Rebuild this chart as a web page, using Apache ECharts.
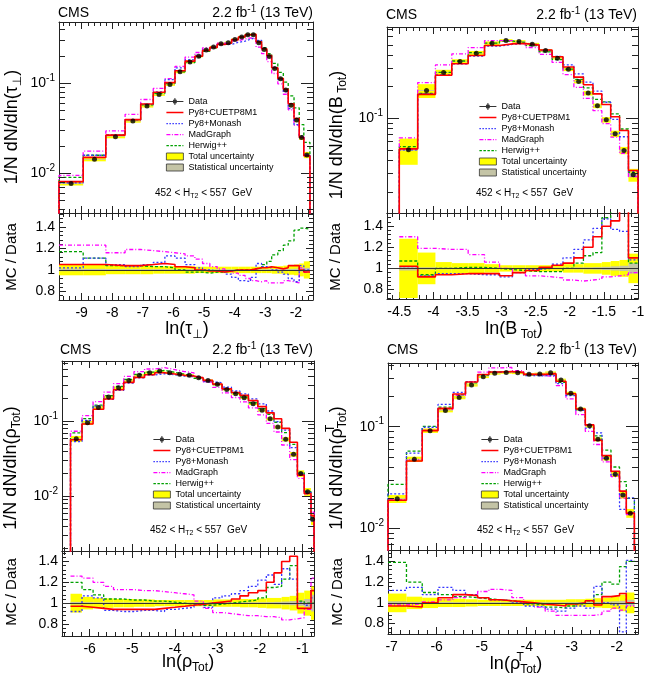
<!DOCTYPE html>
<html>
<head>
<meta charset="utf-8">
<script src="https://cdn.jsdelivr.net/npm/echarts@6.0.0/dist/echarts.min.js"></script>
<style>
html, body { margin: 0; padding: 0; background: #fff; }
#chart { width: 648px; height: 683px; }
</style>
</head>
<body>
<div id="chart"></div>
<script>
// ---- data ----
// ln(tau_perp)
var edgesTau = [-9.74, -8.95, -8.21, -7.58, -7.07, -6.66, -6.28, -5.95, -5.62, -5.30, -5.05, -4.81, -4.57, -4.32, -4.10, -3.88, -3.66, -3.48, -3.30, -3.12, -2.95, -2.79, -2.59, -2.41, -2.25, -2.06, -1.89, -1.74, -1.54];
var dataTau = [0.0077, 0.0143, 0.0255, 0.038, 0.056, 0.075, 0.097, 0.134, 0.173, 0.200, 0.234, 0.253, 0.276, 0.283, 0.306, 0.327, 0.347, 0.347, 0.283, 0.237, 0.198, 0.146, 0.112, 0.084, 0.057, 0.039, 0.025, 0.016];
var redTau = [1.05, 1.05, 1.04, 1.04, 1.05, 1.06, 1.05, 1.03, 1.02, 1.00, 0.99, 0.99, 0.98, 0.99, 1.00, 1.00, 1.00, 1.01, 1.02, 1.02, 1.03, 1.02, 1.01, 1.02, 1.04, 1.04, 1.00, 0.98];
var blueTau = [1.02, 1.11, 1.05, 1.03, 1.05, 1.07, 1.13, 1.11, 1.05, 1.02, 1.00, 0.99, 0.98, 0.96, 0.93, 0.90, 0.89, 0.93, 1.06, 1.03, 1.02, 1.00, 0.98, 0.96, 0.92, 0.89, 1.04, 1.00];
var mgTau = [1.23, 1.23, 1.16, 1.19, 1.18, 1.17, 1.16, 1.15, 1.13, 1.10, 1.06, 1.03, 1.01, 0.99, 0.97, 0.95, 0.92, 0.90, 0.89, 0.90, 0.88, 0.88, 0.88, 0.90, 0.89, 0.88, 1.02, 0.98];
var greenTau = [1.17, 1.11, 1.04, 1.04, 1.03, 1.03, 1.02, 1.00, 0.98, 0.98, 0.97, 0.98, 0.98, 0.99, 1.00, 1.00, 1.00, 1.01, 1.02, 1.05, 1.08, 1.14, 1.18, 1.23, 1.27, 1.37, 1.39, 1.38];
var totTau = [0.05, 0.05, 0.04, 0.04, 0.04, 0.035, 0.035, 0.035, 0.035, 0.03, 0.03, 0.03, 0.03, 0.03, 0.03, 0.03, 0.03, 0.03, 0.03, 0.03, 0.03, 0.035, 0.035, 0.04, 0.045, 0.05, 0.06, 0.08];
var statTau = [0.012, 0.01, 0.008, 0.008, 0.007, 0.007, 0.006, 0.006, 0.006, 0.006, 0.006, 0.006, 0.006, 0.006, 0.006, 0.006, 0.006, 0.006, 0.006, 0.006, 0.007, 0.007, 0.008, 0.009, 0.01, 0.012, 0.015, 0.02];

// ln(B_Tot)
var edgesB = [-4.50, -4.23, -3.97, -3.73, -3.49, -3.25, -3.03, -2.84, -2.65, -2.45, -2.26, -2.10, -1.94, -1.80, -1.66, -1.53, -1.40, -1.27, -1.14, -1.00];
var dataB = [0.050, 0.183, 0.272, 0.346, 0.415, 0.516, 0.547, 0.535, 0.505, 0.440, 0.372, 0.292, 0.223, 0.173, 0.131, 0.0964, 0.071, 0.0493, 0.0289];
var redB = [1.02, 0.92, 0.94, 0.95, 0.95, 0.95, 0.93, 0.96, 0.98, 1.01, 1.03, 1.05, 1.10, 1.20, 1.30, 1.40, 1.45, 1.55, 1.10];
var blueB = [1.00, 0.93, 0.95, 0.95, 0.94, 0.94, 0.92, 0.96, 0.99, 1.00, 1.04, 1.10, 1.18, 1.27, 1.38, 1.47, 1.37, 1.35, 1.08];
var mgB = [1.30, 1.19, 1.18, 1.18, 1.13, 1.06, 1.00, 0.96, 0.93, 0.92, 0.91, 0.89, 0.88, 0.89, 0.90, 0.92, 0.93, 0.94, 0.96];
var greenB = [1.07, 0.94, 1.00, 1.01, 1.01, 1.00, 0.99, 0.98, 0.97, 0.97, 0.97, 1.00, 1.05, 1.12, 1.15, 1.48, 1.55, 1.60, 1.05];
var totB = [0.28, 0.15, 0.06, 0.05, 0.05, 0.04, 0.03, 0.03, 0.03, 0.03, 0.03, 0.04, 0.04, 0.05, 0.05, 0.06, 0.07, 0.08, 0.14];
var statB = [0.02, 0.01, 0.008, 0.007, 0.006, 0.006, 0.006, 0.006, 0.006, 0.006, 0.007, 0.008, 0.009, 0.01, 0.012, 0.015, 0.02, 0.025, 0.05];

// ln(rho_Tot)
var edgesRho = [-6.45, -6.18, -5.92, -5.67, -5.44, -5.20, -4.96, -4.71, -4.47, -4.24, -4.00, -3.77, -3.55, -3.33, -3.11, -2.89, -2.67, -2.47, -2.27, -2.05, -1.85, -1.67, -1.49, -1.30, -1.12, -0.96, -0.80, -0.73];
var dataRho = [0.058, 0.095, 0.151, 0.209, 0.278, 0.348, 0.406, 0.441, 0.464, 0.441, 0.419, 0.406, 0.378, 0.348, 0.308, 0.264, 0.231, 0.205, 0.170, 0.139, 0.107, 0.083, 0.057, 0.036, 0.020, 0.0114, 0.0049];
var redRho = [0.97, 0.96, 0.95, 0.94, 0.94, 0.94, 0.94, 0.94, 0.95, 0.96, 0.97, 0.98, 0.99, 1.00, 1.01, 1.02, 1.04, 1.07, 1.10, 1.12, 1.20, 1.29, 1.40, 1.45, 0.95, 0.95, 1.12];
var blueRho = [0.92, 1.07, 1.05, 0.93, 0.92, 0.92, 0.93, 0.93, 0.92, 0.94, 0.95, 0.96, 0.99, 0.96, 1.05, 1.07, 1.09, 1.12, 1.16, 1.22, 1.27, 1.18, 1.33, 1.23, 1.00, 0.98, 1.05];
var mgRho = [1.26, 1.24, 1.20, 1.16, 1.13, 1.13, 1.12, 1.12, 1.11, 1.10, 1.09, 1.08, 1.02, 0.95, 0.91, 0.90, 0.89, 0.88, 0.88, 0.87, 0.87, 0.86, 0.84, 0.85, 0.86, 0.94, 1.24];
var greenRho = [1.20, 1.13, 1.08, 1.04, 1.04, 1.03, 1.03, 1.02, 1.02, 1.01, 1.00, 0.99, 0.98, 0.98, 0.99, 1.00, 1.01, 1.02, 1.03, 1.05, 1.15, 1.16, 1.23, 1.36, 1.02, 1.00, 1.00];
var totRho = [0.09, 0.06, 0.05, 0.045, 0.04, 0.04, 0.035, 0.035, 0.03, 0.03, 0.03, 0.03, 0.03, 0.03, 0.035, 0.035, 0.035, 0.04, 0.04, 0.045, 0.05, 0.05, 0.06, 0.07, 0.10, 0.12, 0.16];
var statRho = [0.012, 0.01, 0.008, 0.007, 0.006, 0.006, 0.006, 0.006, 0.006, 0.006, 0.006, 0.006, 0.006, 0.006, 0.006, 0.007, 0.007, 0.008, 0.008, 0.009, 0.01, 0.012, 0.015, 0.02, 0.025, 0.04, 0.08];

// ln(rho^T_Tot)
var edgesRhoT = [-7.08, -6.67, -6.32, -5.97, -5.64, -5.36, -5.09, -4.84, -4.58, -4.33, -4.07, -3.83, -3.59, -3.35, -3.13, -2.91, -2.70, -2.51, -2.33, -2.13, -1.94, -1.79, -1.61];
var dataRhoT = [0.0195, 0.0478, 0.0914, 0.144, 0.194, 0.257, 0.310, 0.335, 0.342, 0.339, 0.327, 0.330, 0.339, 0.288, 0.213, 0.149, 0.102, 0.075, 0.049, 0.034, 0.0213, 0.0141];
var redRhoT = [0.97, 0.96, 1.00, 1.05, 1.08, 1.07, 1.05, 1.03, 1.02, 1.01, 1.00, 0.99, 0.98, 0.97, 0.99, 1.00, 1.02, 0.98, 1.06, 1.07, 1.09, 1.00];
var blueRhoT = [1.12, 1.15, 1.08, 1.15, 1.12, 1.08, 1.05, 1.03, 1.02, 1.00, 0.97, 0.96, 0.94, 0.92, 0.95, 0.97, 0.95, 1.16, 1.00, 0.98, 0.72, 1.41];
var mgRhoT = [0.98, 0.99, 1.01, 1.03, 1.05, 1.08, 1.11, 1.13, 1.12, 1.05, 1.00, 0.96, 0.92, 0.88, 0.88, 0.88, 0.88, 0.89, 0.92, 0.95, 0.93, 0.97];
var greenRhoT = [1.39, 1.20, 1.10, 1.08, 1.06, 1.05, 1.04, 1.03, 1.02, 1.01, 0.99, 0.98, 0.96, 0.95, 0.97, 0.99, 1.02, 1.08, 1.20, 1.18, 1.35, 1.40];
var totRhoT = [0.09, 0.06, 0.05, 0.04, 0.04, 0.035, 0.03, 0.03, 0.03, 0.03, 0.03, 0.03, 0.03, 0.03, 0.035, 0.035, 0.04, 0.045, 0.05, 0.06, 0.08, 0.10];
var statRhoT = [0.015, 0.01, 0.008, 0.007, 0.006, 0.006, 0.006, 0.006, 0.006, 0.006, 0.006, 0.006, 0.006, 0.006, 0.007, 0.008, 0.009, 0.01, 0.012, 0.015, 0.02, 0.03];

var logMinor = [2, 3, 4, 5, 6, 7, 8, 9];

// ---- layout ----
var FONT = '"Liberation Sans", Arial, Helvetica, "DejaVu Sans", sans-serif';
var C = { red: '#ff0000', blue: '#3535ff', mg: '#ff00ff', green: '#00a000', yellow: '#ffff00', stat: '#c4c4a6', axis: '#222' };

var panels = [
    { edges: edgesTau, data: dataTau, red: redTau, blue: blueTau, mg: mgTau, green: greenTau, tot: totTau, stat: statTau },
    { edges: edgesB, data: dataB, red: redB, blue: blueB, mg: mgB, green: greenB, tot: totB, stat: statB },
    { edges: edgesRho, data: dataRho, red: redRho, blue: blueRho, mg: mgRho, green: greenRho, tot: totRho, stat: statRho },
    { edges: edgesRhoT, data: dataRhoT, red: redRhoT, blue: blueRhoT, mg: mgRhoT, green: greenRhoT, tot: totRhoT, stat: statRhoT }
];

var layout = [
    { left: 59, width: 254, top: 22, split: 213, bottom: 300, xMin: -9.74, xMax: -1.44, xInt: 1, yMin: 0.00362, yMax: 0.48, rMin: 0.72, rMax: 1.53, showMax: false, legend: [166, 96] },
    { left: 387, width: 251, top: 27, split: 213, bottom: 299, xMin: -4.68, xMax: -1.0, xInt: 0.5, yMin: 0.01253, yMax: 0.736, rMin: 0.71, rMax: 1.525, showMax: true, legend: [479, 101] },
    { left: 62, width: 252, top: 361, split: 551, bottom: 636, xMin: -6.65, xMax: -0.73, xInt: 1, yMin: 0.00185, yMax: 0.631, rMin: 0.685, rMax: 1.50, showMax: false, legend: [153, 434] },
    { left: 388, width: 250, top: 363, split: 550, bottom: 634, xMin: -7.08, xMax: -1.53, xInt: 1, yMin: 0.00612, yMax: 0.423, rMin: 0.70, rMax: 1.51, showMax: false, legend: [481, 434] }
];

// legend icons drawn in a 17x7 box (corner anchors keep the box size)
var BOX = 'M0,0h0.01v0.01z M17,7h-0.01v-0.01z ';
var models = [
    { key: 'red', name: 'Py8+CUETP8M1', color: C.red, width: 1.6, type: 'solid',
      icon: BOX + 'M0,2.7h17v1.6h-17z' },
    { key: 'blue', name: 'Py8+Monash', color: C.blue, width: 1.3, type: [2, 2],
      icon: BOX + 'M0,2.9h1.5v1.3h-1.5z M3,2.9h1.5v1.3h-1.5z M6,2.9h1.5v1.3h-1.5z M9,2.9h1.5v1.3h-1.5z M12,2.9h1.5v1.3h-1.5z M15,2.9h1.5v1.3h-1.5z' },
    { key: 'mg', name: 'MadGraph', color: C.mg, width: 1.3, type: [4, 2, 1, 2],
      icon: BOX + 'M0,2.9h4v1.3h-4z M5.5,2.9h1v1.3h-1z M8,2.9h4v1.3h-4z M13.5,2.9h1v1.3h-1z M16,2.9h1v1.3h-1z' },
    { key: 'green', name: 'Herwig++', color: C.green, width: 1.3, type: [3, 2],
      icon: BOX + 'M0,2.9h2.5v1.3h-2.5z M4,2.9h2.5v1.3h-2.5z M8,2.9h2.5v1.3h-2.5z M12,2.9h2.5v1.3h-2.5z M16,2.9h1v1.3h-1z' }
];

function stepData(edges, vals, drop) {
    var pts = [];
    if (drop) pts.push([edges[0], drop]);
    for (var i = 0; i < vals.length; i++) pts.push([edges[i], vals[i]]);
    pts.push([edges[vals.length], vals[vals.length - 1]]);
    if (drop) pts.push([edges[vals.length], drop]);
    return pts;
}

function bandRender(color) {
    return function (params, api) {
        var p0 = api.coord([api.value(0), api.value(3)]);
        var p1 = api.coord([api.value(1), api.value(2)]);
        return {
            type: 'rect',
            shape: { x: p0[0], y: p0[1], width: p1[0] - p0[0], height: p1[1] - p0[1] },
            style: { fill: color }
        };
    };
}

function minorRender(len) {
    return function (params, api) {
        var cs = params.coordSys;
        var y = Math.round(api.coord([api.value(0), api.value(1)])[1]) + 0.5;
        return {
            type: 'group',
            children: [
                { type: 'line', shape: { x1: cs.x, y1: y, x2: cs.x + len, y2: y }, style: { stroke: C.axis, lineWidth: 1 } },
                { type: 'line', shape: { x1: cs.x + cs.width - len, y1: y, x2: cs.x + cs.width, y2: y }, style: { stroke: C.axis, lineWidth: 1 } }
            ]
        };
    };
}

function xAxisDef(g, L, pos, labels) {
    return {
        type: 'value', gridIndex: g, position: pos, min: L.xMin, max: L.xMax,
        minInterval: L.xInt, maxInterval: L.xInt,
        axisLine: { show: true, onZero: false, lineStyle: { color: C.axis, width: 1 } },
        axisTick: { show: true, inside: true, length: 7, lineStyle: { color: C.axis } },
        minorTick: { show: true, splitNumber: 5, length: 4, lineStyle: { color: C.axis } },
        axisLabel: labels ? { show: true, margin: 6, showMinLabel: false, showMaxLabel: L.showMax, fontSize: 14, color: '#000', fontFamily: FONT } : { show: false },
        splitLine: { show: false }
    };
}

function logAxisDef(g, L, pos) {
    return {
        type: 'log', logBase: 10, gridIndex: g, position: pos, min: L.yMin, max: L.yMax,
        axisLine: { show: true, onZero: false, lineStyle: { color: C.axis, width: 1 } },
        axisTick: { show: true, inside: true, length: 12, lineStyle: { color: C.axis } },
        axisLabel: pos === 'left' ? {
            show: true, margin: 4,
            formatter: function (v) {
                var e = Math.log10(v);
                if (Math.abs(e - Math.round(e)) > 1e-6) return '';
                return '{b|10}{s|' + Math.round(e) + '}';
            },
            rich: {
                b: { fontSize: 14, lineHeight: 20, color: '#000', fontFamily: FONT },
                s: { fontSize: 10, lineHeight: 10, verticalAlign: 'top', color: '#000', fontFamily: FONT }
            }
        } : { show: false },
        splitLine: { show: false }
    };
}

function ratioAxisDef(g, L, pos) {
    return {
        type: 'value', gridIndex: g, position: pos, min: L.rMin, max: L.rMax,
        minInterval: 0.2, maxInterval: 0.2,
        axisLine: { show: true, onZero: false, lineStyle: { color: C.axis, width: 1 } },
        axisTick: { show: true, inside: true, length: 7, lineStyle: { color: C.axis } },
        minorTick: { show: true, splitNumber: 5, length: 4, lineStyle: { color: C.axis } },
        axisLabel: pos === 'left' ? { show: true, margin: 4, showMinLabel: false, showMaxLabel: false, fontSize: 14, color: '#000', fontFamily: FONT } : { show: false },
        splitLine: { show: false }
    };
}

var grids = [], xAxes = [], yAxes = [], series = [], legends = [];

panels.forEach(function (P, p) {
    var L = layout[p];
    var gm = 2 * p, gr = 2 * p + 1;
    grids.push({ left: L.left, top: L.top, width: L.width, height: L.split - L.top, show: false });
    grids.push({ left: L.left, top: L.split, width: L.width, height: L.bottom - L.split, show: false });
    // main pad: x bottom / top, y left / right
    xAxes.push(xAxisDef(gm, L, 'bottom', false), xAxisDef(gm, L, 'top', false));
    yAxes.push(logAxisDef(gm, L, 'left'), logAxisDef(gm, L, 'right'));
    // ratio pad
    xAxes.push(xAxisDef(gr, L, 'bottom', true), xAxisDef(gr, L, 'top', false));
    yAxes.push(ratioAxisDef(gr, L, 'left'), ratioAxisDef(gr, L, 'right'));

    var xm = 4 * p, xr = 4 * p + 2;
    var n = P.data.length;
    var totMain = [], statMain = [], totR = [], statR = [], pts = [];
    for (var i = 0; i < n; i++) {
        var a = P.edges[i], b = P.edges[i + 1], d = P.data[i];
        totMain.push([a, b, d * (1 - P.tot[i]), d * (1 + P.tot[i])]);
        statMain.push([a, b, d * (1 - P.stat[i]), d * (1 + P.stat[i])]);
        totR.push([a, b, 1 - P.tot[i], 1 + P.tot[i]]);
        statR.push([a, b, 1 - P.stat[i], 1 + P.stat[i]]);
        pts.push([(a + b) / 2, d]);
    }
    var drop = L.yMin / 10;

    series.push({
        type: 'custom', name: 'Total uncertainty', xAxisIndex: xm, yAxisIndex: xm, clip: true, z: 1,
        itemStyle: { color: C.yellow }, encode: { x: [0, 1], y: [2, 3] },
        renderItem: bandRender(C.yellow), data: totMain
    });
    series.push({
        type: 'custom', name: 'Statistical uncertainty', xAxisIndex: xm, yAxisIndex: xm, clip: true, z: 2,
        itemStyle: { color: C.stat }, encode: { x: [0, 1], y: [2, 3] },
        renderItem: bandRender(C.stat), data: statMain
    });
    series.push({
        type: 'custom', name: 'Total uncertainty', xAxisIndex: xr, yAxisIndex: xr, clip: true, z: 1,
        itemStyle: { color: C.yellow }, encode: { x: [0, 1], y: [2, 3] },
        renderItem: bandRender(C.yellow), data: totR
    });
    series.push({
        type: 'custom', name: 'Statistical uncertainty', xAxisIndex: xr, yAxisIndex: xr, clip: true, z: 2,
        itemStyle: { color: C.stat }, encode: { x: [0, 1], y: [2, 3] },
        renderItem: bandRender(C.stat), data: statR
    });

    models.slice().reverse().forEach(function (m) {
        var ratio = P[m.key];
        var mc = ratio.map(function (r, i) { return r * P.data[i]; });
        var ls = { color: m.color, width: m.width, type: m.type };
        series.push({
            type: 'line', name: m.name, xAxisIndex: xm, yAxisIndex: xm, step: 'end', symbol: 'none',
            clip: true, z: 3, color: m.color, lineStyle: ls, data: stepData(P.edges, mc, drop)
        });
        series.push({
            type: 'line', name: m.name, xAxisIndex: xr, yAxisIndex: xr, step: 'end', symbol: 'none',
            clip: true, z: 3, color: m.color, lineStyle: ls, data: stepData(P.edges, ratio, null)
        });
    });

    // reference line at 1 in the ratio pad
    series.push({
        type: 'line', name: 'ref', xAxisIndex: xr, yAxisIndex: xr, data: [], z: 4,
        markLine: {
            silent: true, symbol: 'none', label: { show: false }, animation: false,
            lineStyle: { color: '#333', width: 1, type: 'solid' }, data: [{ yAxis: 1 }]
        }
    });

    series.push({
        type: 'scatter', name: 'Data', xAxisIndex: xm, yAxisIndex: xm, symbol: 'circle', symbolSize: 5,
        itemStyle: { color: '#000' }, z: 5, data: pts
    });

    // log minor ticks on both vertical edges of the main pad
    var minorVals = [];
    for (var e = -4; e <= 0; e++) {
        logMinor.forEach(function (k) {
            var v = k * Math.pow(10, e);
            if (v > L.yMin && v < L.yMax) minorVals.push([L.xMin, v]);
        });
    }
    series.push({
        type: 'custom', name: 'minor', xAxisIndex: xm, yAxisIndex: xm, z: 6, silent: true,
        encode: { x: 0, y: 1 }, renderItem: minorRender(6), data: minorVals
    });

    var legData = [{ name: 'Data', icon: 'path://M0,3 L17,3 L17,4 L0,4 Z M8,0 L9,0 L9,7 L8,7 Z M10.7,3.5 A2.2,2.2 0 1 1 6.3,3.5 A2.2,2.2 0 1 1 10.7,3.5 Z', itemStyle: { color: '#000' } }];
    models.forEach(function (m) {
        legData.push({ name: m.name, icon: 'path://' + m.icon, itemStyle: { color: m.color, borderWidth: 0 } });
    });
    legData.push({ name: 'Total uncertainty', icon: 'rect', itemStyle: { color: C.yellow, borderColor: '#333', borderWidth: 0.8 } });
    legData.push({ name: 'Statistical uncertainty', icon: 'rect', itemStyle: { color: C.stat, borderColor: '#333', borderWidth: 0.8 } });

    legends.push({
        orient: 'vertical', left: L.legend[0], top: L.legend[1], padding: 0,
        itemWidth: 17, itemHeight: 7, itemGap: 0, selectedMode: false,
        textStyle: { fontSize: 9, lineHeight: 11, color: '#000', fontFamily: FONT },
        data: legData
    });
});

// ---- texts ----
var rich18 = {
    n: { fontSize: 18, lineHeight: 24, fontFamily: FONT, fill: '#000' },
    sub: { fontSize: 12, lineHeight: 12, verticalAlign: 'bottom', fontFamily: FONT, fill: '#000' },
    sup: { fontSize: 12, lineHeight: 12, verticalAlign: 'top', fontFamily: FONT, fill: '#000' },
    supz: { fontSize: 12, lineHeight: 12, width: 0.01, verticalAlign: 'top', fontFamily: FONT, fill: '#000' }
};
var rich14 = {
    n: { fontSize: 14, lineHeight: 18, fontFamily: FONT, fill: '#000' },
    sup: { fontSize: 10, lineHeight: 10, verticalAlign: 'top', fontFamily: FONT, fill: '#000' }
};
var rich10 = {
    n: { fontSize: 10, lineHeight: 13, fontFamily: FONT, fill: '#000' },
    sub: { fontSize: 7, lineHeight: 7, verticalAlign: 'bottom', fontFamily: FONT, fill: '#000' }
};

var xTitles = ['{n|ln(τ}{sub|⊥}{n|)}', '{n|ln(B}{sub| Tot}{n|)}', '{n|ln(ρ}{sub|Tot}{n|)}', '{n|ln(ρ}{supz|T}{sub|Tot}{n|)}'];
var yTitles = ['{n|1/N dN/dln(τ}{sub|⊥}{n|)}', '{n|1/N dN/dln(B}{sub| Tot}{n|)}', '{n|1/N dN/dln(ρ}{sub|Tot}{n|)}', '{n|1/N dN/dln(ρ}{supz|T}{sub|Tot}{n|)}'];
var xTitlePos = [[187, 329], [514, 329], [188, 662], [516, 664]];
var yTitlePos = [[12, 127], [337, 135], [11, 468], [337, 468]];
var ratioTitlePos = [[12, 257], [336, 257], [12, 592], [338, 592]];
var cmsPos = [[58, 13], [386, 15], [60, 350], [387, 350]];
var lumiPos = [[313, 13], [637, 15], [313, 350], [637, 350]];
var htPos = [[155, 193], [476, 193], [150, 530], [477, 530]];

var graphics = [];
for (var k = 0; k < 4; k++) {
    graphics.push({ type: 'text', x: xTitlePos[k][0], y: xTitlePos[k][1], style: { text: xTitles[k], rich: rich18, align: 'center', verticalAlign: 'middle' } });
    graphics.push({ type: 'text', x: yTitlePos[k][0], y: yTitlePos[k][1], rotation: Math.PI / 2, style: { text: yTitles[k], rich: rich18, align: 'center', verticalAlign: 'middle' } });
    graphics.push({ type: 'text', x: ratioTitlePos[k][0], y: ratioTitlePos[k][1], rotation: Math.PI / 2, style: { text: 'MC / Data', font: '15px ' + FONT, fill: '#000', align: 'center', verticalAlign: 'middle' } });
    graphics.push({ type: 'text', x: cmsPos[k][0], y: cmsPos[k][1], style: { text: 'CMS', font: '14px ' + FONT, fill: '#000', align: 'left', verticalAlign: 'middle' } });
    graphics.push({ type: 'text', x: lumiPos[k][0], y: lumiPos[k][1], style: { text: '{n|2.2 fb}{sup|-1}{n| (13 TeV)}', rich: rich14, align: 'right', verticalAlign: 'middle' } });
    graphics.push({ type: 'text', x: htPos[k][0], y: htPos[k][1], style: { text: '{n|452 < H}{sub|T2}{n| < 557  GeV}', rich: rich10, align: 'left', verticalAlign: 'middle' } });
}

var myChart = echarts.init(document.getElementById('chart'));
myChart.setOption({
    animation: false,
    backgroundColor: '#fff',
    textStyle: { fontFamily: FONT },
    grid: grids,
    xAxis: xAxes,
    yAxis: yAxes,
    legend: legends,
    graphic: graphics,
    series: series
});
</script>
</body>
</html>
